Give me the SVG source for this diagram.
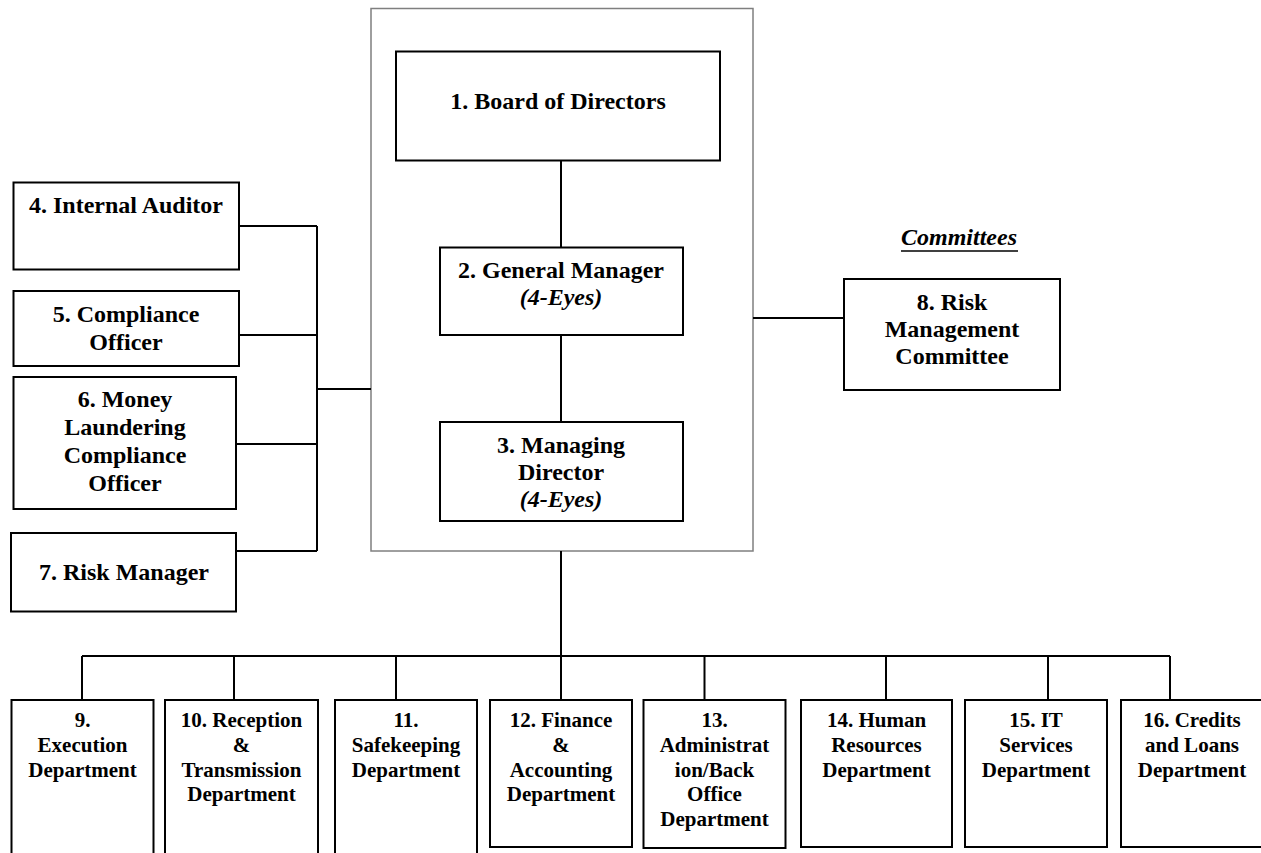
<svg xmlns="http://www.w3.org/2000/svg" width="1261" height="853" viewBox="0 0 1261 853">
<style>
.box{fill:#fff;stroke:#000;stroke-width:2}
.frame{fill:#fff;stroke:#7f7f7f;stroke-width:1.5}
.t{font-size:24px;fill:#000;text-anchor:middle}
.s{font-size:21px;fill:#000;text-anchor:middle}
.c{fill:none;stroke:#000;stroke-width:2}
</style>
<rect width="1261" height="853" fill="#fff"/>
<g id="container"><rect class="frame" x="371" y="8.5" width="382" height="542.5"/></g>
<g id="connectors">
<path class="c" d="M561 160.5V247.5M561 335V422M561 551V656M82 656H1170M82 656V700M234 656V700M396 656V700M561 656V700M704.5 656V700M886 656V700M1048 656V700M1170 656V700"/>
<path class="c" d="M239 226H317M239 335H317M236 444H317M236 551H317M317 226V551M317 389H371"/>
<path class="c" d="M753 318H844"/>
</g>
<g font-family="Liberation Serif, Times New Roman, serif" font-weight="bold">
<g id="n1"><rect class="box" x="396" y="51.5" width="324" height="109"/><text class="t" x="558" y="109">1. Board of Directors</text></g>
<g id="n2"><rect class="box" x="440" y="247.5" width="243" height="87.5"/><text class="t" x="561" y="278">2. General Manager</text><text class="t" font-style="italic" x="561" y="305">(4-Eyes)</text></g>
<g id="n3"><rect class="box" x="440" y="422" width="243" height="99"/><text class="t" x="561" y="453">3. Managing</text><text class="t" x="561" y="480">Director</text><text class="t" font-style="italic" x="561" y="507">(4-Eyes)</text></g>
<g id="n4"><rect class="box" x="13.5" y="182.5" width="225.5" height="87"/><text class="t" x="126" y="213">4. Internal Auditor</text></g>
<g id="n5"><rect class="box" x="13.5" y="291" width="225.5" height="75"/><text class="t" x="126" y="322">5. Compliance</text><text class="t" x="126" y="350">Officer</text></g>
<g id="n6"><rect class="box" x="13.5" y="377" width="222.5" height="132"/><text class="t" x="125" y="407">6. Money</text><text class="t" x="125" y="435">Laundering</text><text class="t" x="125" y="463">Compliance</text><text class="t" x="125" y="491">Officer</text></g>
<g id="n7"><rect class="box" x="11" y="533" width="225" height="78.5"/><text class="t" x="124" y="580">7. Risk Manager</text></g>
<g id="committees-label"><text class="t" font-style="italic" x="959" y="245">Committees</text><line x1="901" y1="251" x2="1018" y2="251" stroke="#000" stroke-width="1.5"/></g>
<g id="n8"><rect class="box" x="844" y="279" width="216" height="111"/><text class="t" x="952" y="310">8. Risk</text><text class="t" x="952" y="337">Management</text><text class="t" x="952" y="364">Committee</text></g>
<g id="n9"><rect class="box" x="11.5" y="700" width="142" height="160"/><text class="s" x="82.5" y="727">9.</text><text class="s" x="82.5" y="752">Execution</text><text class="s" x="82.5" y="776.5">Department</text></g>
<g id="n10"><rect class="box" x="165" y="700" width="153" height="160"/><text class="s" x="241.5" y="727">10. Reception</text><text class="s" x="241.5" y="752">&amp;</text><text class="s" x="241.5" y="776.5">Transmission</text><text class="s" x="241.5" y="801">Department</text></g>
<g id="n11"><rect class="box" x="335" y="700" width="142" height="160"/><text class="s" x="406" y="727">11.</text><text class="s" x="406" y="752">Safekeeping</text><text class="s" x="406" y="776.5">Department</text></g>
<g id="n12"><rect class="box" x="490" y="700" width="142" height="147" stroke-width="2.5"/><text class="s" x="561" y="727">12. Finance</text><text class="s" x="561" y="752">&amp;</text><text class="s" x="561" y="776.5">Accounting</text><text class="s" x="561" y="801">Department</text></g>
<g id="n13"><rect class="box" x="643.5" y="700" width="142" height="148"/><text class="s" x="714.5" y="727">13.</text><text class="s" x="714.5" y="752">Administrat</text><text class="s" x="714.5" y="776.5">ion/Back</text><text class="s" x="714.5" y="801">Office</text><text class="s" x="714.5" y="826">Department</text></g>
<g id="n14"><rect class="box" x="801" y="700" width="151" height="147"/><text class="s" x="876.5" y="727">14. Human</text><text class="s" x="876.5" y="752">Resources</text><text class="s" x="876.5" y="776.5">Department</text></g>
<g id="n15"><rect class="box" x="965" y="700" width="142" height="147"/><text class="s" x="1036" y="727">15. IT</text><text class="s" x="1036" y="752">Services</text><text class="s" x="1036" y="776.5">Department</text></g>
<g id="n16"><rect class="box" x="1121" y="700" width="142" height="147"/><text class="s" x="1192" y="727">16. Credits</text><text class="s" x="1192" y="752">and Loans</text><text class="s" x="1192" y="776.5">Department</text></g>
</g>
</svg>
